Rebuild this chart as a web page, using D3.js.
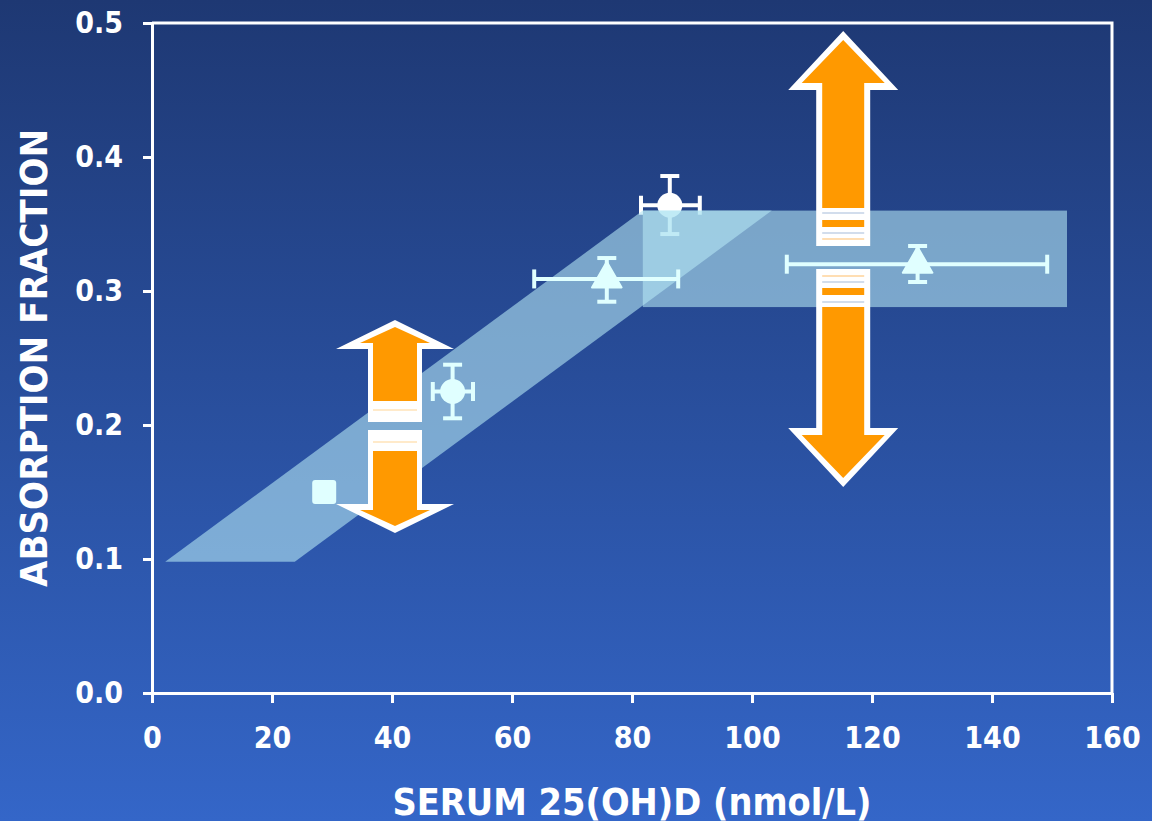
<!DOCTYPE html>
<html>
<head>
<meta charset="utf-8">
<script src="https://cdn.jsdelivr.net/npm/d3@7"></script>
<style>
  html, body { margin: 0; padding: 0; background: #2a4f9e; }
  svg { display: block; }
  text { font-family: "DejaVu Sans Condensed", "DejaVu Sans", sans-serif; font-stretch: condensed; font-weight: bold; fill: #fff; }
</style>
</head>
<body>
<div id="wrapper"></div>
<script>
// data
const xTicks = [0, 20, 40, 60, 80, 100, 120, 140, 160]
const yTicks = [0.0, 0.1, 0.2, 0.3, 0.4, 0.5]
const xTitle = "SERUM 25(OH)D (nmol/L)"
const yTitle = "ABSORPTION FRACTION"

const pointShape = ["square", "circle", "triangle", "circle", "triangle"]
const pointX     = [28.7, 50.1, 75.8, 86.3, 127.6]
const pointY     = [0.150, 0.225, 0.309, 0.364, 0.320]
const xErrLow    = [null, 46.8, 63.7, 81.5, 105.8]
const xErrHigh   = [null, 53.5, 87.7, 91.3, 149.2]
const yErrLow    = [null, 0.205, 0.292, 0.3425, 0.3067]
const yErrHigh   = [null, 0.245, 0.3246, 0.3858, 0.3336]
// the white point sits under the bands
const pointUnderBand = [false, false, false, true, false]

// shaded bands (data units)
const slopeBand = [[2.2, 0.098], [23.8, 0.098], [103.3, 0.36], [81.8, 0.36]]
const plateauBand = { x0: 81.8, x1: 152.5, y0: 0.288, y1: 0.36 }

// double arrows: x, tip of up arrow, end of up arrow, start of down arrow, tip of down arrow
const arrowX       = [40.5, 115.2]
const arrowUpTip   = [0.2784, 0.494]
const arrowUpEnd   = [0.2022, 0.3336]
const arrowDownTop = [0.1963, 0.3164]
const arrowDownTip = [0.1194, 0.1537]

const width = 1152
const height = 821

const svg = d3.select("#wrapper")
  .append("svg")
    .attr("width", width)
    .attr("height", height)

const defs = svg.append("defs")
const grad = defs.append("linearGradient")
    .attr("id", "bg")
    .attr("x1", 0).attr("y1", 0).attr("x2", 0).attr("y2", 1)
grad.append("stop").attr("offset", "0%").attr("stop-color", "#1e3873")
grad.append("stop").attr("offset", "100%").attr("stop-color", "#3466c8")

svg.append("rect")
    .attr("width", width)
    .attr("height", height)
    .attr("fill", "url(#bg)")

const xScale = d3.scaleLinear()
  .domain([0, 160])
  .range([152, 1112])

const yScale = d3.scaleLinear()
  .domain([0, 0.5])
  .range([693, 23])

const cyan = "#e0ffff"
const orange = "#ff9900"

const points = pointX.map((x, i) => ({
  shape: pointShape[i], x, y: pointY[i],
  xLo: xErrLow[i], xHi: xErrHigh[i], yLo: yErrLow[i], yHi: yErrHigh[i],
  under: pointUnderBand[i]
}))

function drawPoint(g, d, color) {
  const cx = xScale(d.x)
  const cy = yScale(d.y)
  const cap = 9.5
  const bars = g.append("g")
      .attr("stroke", color)
      .attr("stroke-width", 4)
  if (d.xLo != null) {
    bars.append("line")
      .attr("x1", xScale(d.xLo)).attr("x2", xScale(d.xHi))
      .attr("y1", cy).attr("y2", cy)
    ;[d.xLo, d.xHi].forEach(v => bars.append("line")
      .attr("x1", xScale(v)).attr("x2", xScale(v))
      .attr("y1", cy - cap).attr("y2", cy + cap))
  }
  if (d.yLo != null) {
    bars.append("line")
      .attr("x1", cx).attr("x2", cx)
      .attr("y1", yScale(d.yLo)).attr("y2", yScale(d.yHi))
    ;[d.yLo, d.yHi].forEach(v => bars.append("line")
      .attr("x1", cx - cap).attr("x2", cx + cap)
      .attr("y1", yScale(v)).attr("y2", yScale(v)))
  }
  if (d.shape == "square") {
    g.append("rect")
      .attr("x", cx - 12).attr("y", cy - 12)
      .attr("width", 24).attr("height", 24)
      .attr("rx", 3)
      .attr("fill", color)
  } else if (d.shape == "circle") {
    g.append("circle")
      .attr("cx", cx).attr("cy", cy).attr("r", 12.5)
      .attr("fill", color)
  } else {
    g.append("path")
      .attr("transform", `translate(${cx},${cy})`)
      .attr("d", d3.symbol(d3.symbolTriangle, 380)())
      .attr("fill", color)
      .attr("stroke", color)
      .attr("stroke-width", 2)
      .attr("stroke-linejoin", "round")
  }
}

// points below the bands
const under = svg.append("g")
points.filter(d => d.under).forEach(d => drawPoint(under, d, "#ffffff"))

// bands
const bandColor = "rgba(180, 230, 243, 0.6)"
svg.append("path")
    .attr("d", d3.line().x(d => xScale(d[0])).y(d => yScale(d[1]))(slopeBand) + "Z")
    .attr("fill", bandColor)

svg.append("rect")
    .attr("x", xScale(plateauBand.x0))
    .attr("y", yScale(plateauBand.y1))
    .attr("width", xScale(plateauBand.x1) - xScale(plateauBand.x0))
    .attr("height", yScale(plateauBand.y0) - yScale(plateauBand.y1))
    .attr("fill", bandColor)

// axes
const xAxisGenerator = d3.axisBottom(xScale)
  .tickValues(xTicks)
  .tickFormat(d3.format("d"))
  .tickSizeInner(10)
  .tickSizeOuter(0)
  .tickPadding(24)

const yAxisGenerator = d3.axisLeft(yScale)
  .tickValues(yTicks)
  .tickFormat(d3.format(".1f"))
  .tickSizeInner(9)
  .tickSizeOuter(0)
  .tickPadding(20)

const xAxis = svg.append("g")
    .attr("transform", `translate(0, ${yScale(0)})`)
    .call(xAxisGenerator)
const yAxis = svg.append("g")
    .attr("transform", `translate(${xScale(0)}, 0)`)
    .call(yAxisGenerator)

;[xAxis, yAxis].forEach(a => {
  a.select(".domain").attr("stroke", "#fff").attr("stroke-width", 3)
  a.selectAll(".tick line").attr("stroke", "#fff").attr("stroke-width", 3)
  a.selectAll(".tick text")
    .attr("fill", "#fff")
    .style("font-size", "30px")
})

// frame top and right
svg.append("path")
    .attr("d", `M${xScale(0)},${yScale(0.5)}H${xScale(160)}V${yScale(0)}`)
    .attr("fill", "none")
    .attr("stroke", "#fff")
    .attr("stroke-width", 3)

// titles
svg.append("text")
    .attr("x", 632)
    .attr("y", 815)
    .attr("text-anchor", "middle")
    .style("font-size", "37.5px")
    .text(xTitle)

svg.append("text")
    .attr("transform", `translate(47, 358) rotate(-90)`)
    .attr("text-anchor", "middle")
    .style("font-size", "38px")
    .text(yTitle)

// arrows
const arrowGeom = [
  { hl: 29, hh: 59, sh: 27, ti: 7, bi: 6, ihh: 35, ish: 22, ei: 21 },
  { hl: 59, hh: 55, sh: 27, ti: 9, bi: 7, ihh: 41.5, ish: 21, ei: 38 }
]

function arrowPoints(cx, ty, ey, hl, hh, sh) {
  const s = Math.sign(ey - ty)
  const by = ty + s * hl
  return [[cx, ty], [cx + hh, by], [cx + sh, by], [cx + sh, ey],
          [cx - sh, ey], [cx - sh, by], [cx - hh, by]]
}

const arrows = svg.append("g")
arrowX.forEach((ax, i) => {
  const g = arrowGeom[i]
  const cx = xScale(ax)
  const pairs = [[yScale(arrowUpTip[i]), yScale(arrowUpEnd[i])],
                 [yScale(arrowDownTip[i]), yScale(arrowDownTop[i])]]
  pairs.forEach(([ty, ey]) => {
    const s = Math.sign(ey - ty)
    arrows.append("polygon")
      .attr("points", arrowPoints(cx, ty, ey, g.hl, g.hh, g.sh).join(" "))
      .attr("fill", "#fff")
    arrows.append("polygon")
      .attr("points", arrowPoints(cx, ty + s * g.ti, ey - s * g.ei,
              g.hl - g.ti - g.bi, g.ihh, g.ish).join(" "))
      .attr("fill", orange)
    // stripes in the white block, offsets measured back from the block end
    const stripes = i == 0
      ? [{ o: 12, w: 1.5, c: "#ffe3b8" }]
      : [{ o: 7, w: 1.5, c: "#ffd39a" }, { o: 13, w: 1.5, c: "#c3d2e6" },
         { o: 22.5, w: 7, c: orange }, { o: 33, w: 1.5, c: "#c3d2e6" }]
    stripes.forEach(st => {
      const y = ey - s * st.o
      arrows.append("line")
        .attr("x1", cx - g.ish).attr("x2", cx + g.ish)
        .attr("y1", y).attr("y2", y)
        .attr("stroke", st.c)
        .attr("stroke-width", st.w)
    })
  })
})

// points above the bands
const over = svg.append("g")
points.filter(d => !d.under).forEach(d => drawPoint(over, d, cyan))
</script>
</body>
</html>
